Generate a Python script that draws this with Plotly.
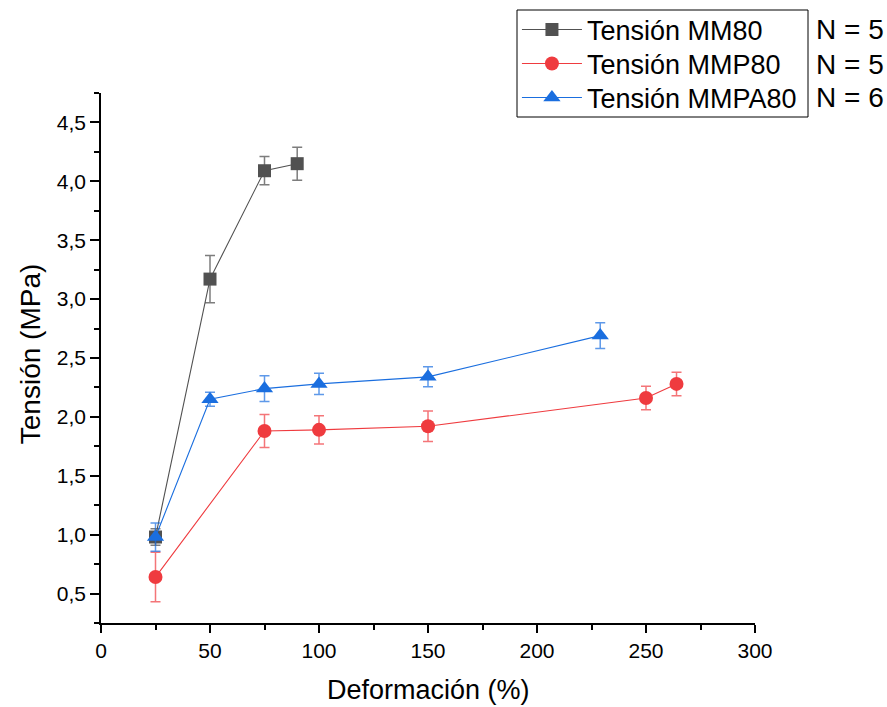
import plotly.graph_objects as go

# Data
mm80_x = [25, 50, 75, 90]
mm80_y = [0.98, 3.17, 4.09, 4.15]
mm80_err = [0.07, 0.20, 0.12, 0.14]

mmp80_x = [25, 75, 100, 150, 250, 264]
mmp80_y = [0.64, 1.88, 1.89, 1.92, 2.16, 2.28]
mmp80_err = [0.21, 0.14, 0.12, 0.13, 0.10, 0.10]

mmpa80_x = [25, 50, 75, 100, 150, 229]
mmpa80_y = [0.98, 2.15, 2.24, 2.28, 2.34, 2.69]
mmpa80_err = [0.12, 0.06, 0.11, 0.09, 0.085, 0.11]

names = ["Tensión MM80", "Tensión MMP80", "Tensión MMPA80"]
n_labels = ["N = 5", "N = 5", "N = 6"]

x_ticks = [0, 50, 100, 150, 200, 250, 300]
y_ticks = [0.5, 1.0, 1.5, 2.0, 2.5, 3.0, 3.5, 4.0, 4.5]
y_ticklabels = ["0,5", "1,0", "1,5", "2,0", "2,5", "3,0", "3,5", "4,0", "4,5"]

FONT = "Liberation Sans, Arial, sans-serif"

fig = go.Figure()

series = [
    (mm80_x, mm80_y, mm80_err, "#515151", "rgba(81,81,81,0.75)", "square", 13),
    (mmp80_x, mmp80_y, mmp80_err, "#EF3B3F", "rgba(239,59,63,0.7)", "circle", 14),
    (mmpa80_x, mmpa80_y, mmpa80_err, "#1A6EDF", "rgba(26,110,223,0.7)", "triangle-up", 15),
]
legend_ids = ["legend", "legend2", "legend3"]
row_y = [1.1189, 1.0547, 0.9906]
for (xs, ys, es, col, ecol, sym, sz), nm, lg in zip(series, names, legend_ids):
    fig.add_trace(go.Scatter(
        x=xs, y=ys, name=nm, mode="lines+markers", legend=lg,
        line=dict(color=col, width=1.1),
        marker=dict(symbol=sym, size=sz, color=col),
        error_y=dict(type="data", array=es, visible=True, color=ecol, thickness=1.5, width=5),
    ))

for i, t in enumerate(n_labels):
    fig.add_annotation(
        x=1.09, y=row_y[i], xref="paper", yref="paper",
        text=t, showarrow=False, xanchor="left", yanchor="middle",
        font=dict(family=FONT, size=28, color="black"),
    )

# axis titles
fig.add_annotation(x=0.5, y=-0.1264, xref="paper", yref="paper", text="Deformación (%)",
                   showarrow=False, xanchor="center", yanchor="middle",
                   font=dict(family=FONT, size=27, color="black"))
fig.add_annotation(x=-0.1086, y=0.509, xref="paper", yref="paper", text="Tensión (MPa)",
                   showarrow=False, xanchor="center", yanchor="middle", textangle=-90,
                   font=dict(family=FONT, size=28, color="black"))

# legend frame
fig.add_shape(type="rect", xref="paper", yref="paper",
              x0=(517 - 101) / 654, x1=(808 - 101) / 654,
              y0=(623 - 117) / 530, y1=(623 - 10) / 530,
              line=dict(color="black", width=1), fillcolor="rgba(0,0,0,0)")

leg_common = dict(x=0.636, xanchor="left", yanchor="middle", borderwidth=0,
                  bgcolor="rgba(0,0,0,0)", font=dict(family=FONT, size=27, color="black"),
                  itemwidth=60)

fig.update_layout(
    width=887, height=707,
    margin=dict(l=101, r=132, t=93, b=84, autoexpand=False),
    paper_bgcolor="white", plot_bgcolor="white",
    font=dict(family=FONT, color="black"),
    showlegend=True,
    legend=dict(y=row_y[0], **leg_common),
    legend2=dict(y=row_y[1], **leg_common),
    legend3=dict(y=row_y[2], **leg_common),
    xaxis=dict(
        range=[0, 300], tickvals=x_ticks, ticks="outside", ticklen=8, tickwidth=1.5,
        showline=True, linecolor="black", linewidth=1.5, showgrid=False, zeroline=False,
        tickfont=dict(size=21), automargin=False,
        minor=dict(dtick=25, ticks="outside", ticklen=5, tickwidth=1.5, tickcolor="black", showgrid=False),
        tickcolor="black",
    ),
    yaxis=dict(
        range=[0.25, 4.75], tickvals=y_ticks, ticktext=y_ticklabels, ticks="outside", ticklen=9, tickwidth=1.5,
        showline=True, linecolor="black", linewidth=1.5, showgrid=False, zeroline=False,
        tickfont=dict(size=21), automargin=False,
        minor=dict(dtick=0.25, tick0=0.25, ticks="outside", ticklen=5, tickwidth=1.5, tickcolor="black", showgrid=False),
        tickcolor="black",
    ),
)

fig.write_html("out.html")
